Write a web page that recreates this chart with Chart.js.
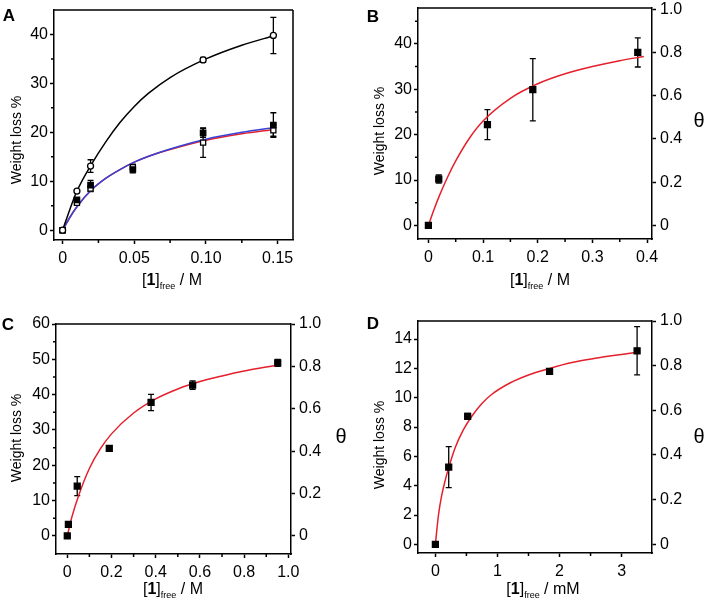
<!DOCTYPE html>
<html>
<head>
<meta charset="utf-8">
<script src="https://cdn.jsdelivr.net/npm/chart.js@4.4.1/dist/chart.umd.min.js"></script>
<style>
html, body { margin: 0; padding: 0; background: #fff; }
#wrap { position: relative; width: 705px; height: 605px; overflow: hidden; }
canvas { position: absolute; }
</style>
</head>
<body>
<div id="wrap">
<canvas id="pA" width="352" height="300" style="left:0;top:0"></canvas>
<canvas id="pB" width="353" height="300" style="left:352px;top:0"></canvas>
<canvas id="pC" width="352" height="305" style="left:0;top:300px"></canvas>
<canvas id="pD" width="353" height="305" style="left:352px;top:300px"></canvas>
</div>
<script>
/*globals Chart*/
const FONT = '"Liberation Sans", Arial, Helvetica, sans-serif';
const RED = 'rgb(228, 32, 44)';
const BLUE = 'rgb(56, 66, 214)';

// panel A - measured points
const aCircX = [0, 0.01, 0.0195, 0.098, 0.147];
const aCircY = [0, 8.0, 13.1, 34.8, 39.8];
const aCircErr = [0, 0.3, 1.3, 0.5, 3.7];
const aSqX = [0, 0.01, 0.0195, 0.049, 0.098, 0.147];
const aFillY = [0, 6.2, 9.2, 12.4, 19.9, 21.5];
const aFillErr = [0, 0.4, 1.0, 0.7, 0.9, 2.5];
const aOpenY = [0, 5.6, 8.5, 12.9, 17.9, 20.4];
const aOpenErr = [0, 0.4, 0.6, 0.6, 3.0, 1.2];
// panel A - fitted curves
const aFitX = [0, 0.005, 0.01, 0.02, 0.03, 0.04, 0.05, 0.06, 0.075, 0.1, 0.125, 0.148];
const aBlackFit = [0, 4.2, 8.0, 13.4, 18.0, 22.0, 25.3, 28.0, 31.2, 35.0, 37.8, 39.8];
const aRedFit = [0, 2.6, 4.8, 8.2, 10.6, 12.4, 13.9, 15.1, 16.5, 18.4, 19.7, 20.6];
const aBlueFit = [0, 2.6, 4.8, 8.2, 10.6, 12.4, 13.9, 15.1, 16.6, 18.6, 20.0, 21.0];

// panel B
const bX = [0, 0.019, 0.108, 0.191, 0.383];
const bY = [0, 10.2, 22.2, 29.9, 38.1];
const bErr = [0.3, 0.9, 3.3, 6.85, 3.2];
const bFitX = [0, 0.01, 0.02, 0.035, 0.05, 0.075, 0.1, 0.15, 0.2, 0.25, 0.3, 0.35, 0.394];
const bFitY = [0, 3.4, 6.5, 10.6, 14.2, 19.2, 23.0, 28.0, 31.2, 33.4, 35.0, 36.3, 37.2];

// panel C
const cX = [0, 0.005, 0.045, 0.19, 0.379, 0.567, 0.952];
const cY = [0, 3.3, 14.1, 24.8, 37.8, 42.7, 49.0];
const cErr = [0.2, 0.3, 2.7, 0.8, 2.3, 1.2, 1.0];
const cFitX = [0, 0.02, 0.05, 0.1, 0.15, 0.2, 0.3, 0.4, 0.5, 0.6, 0.7, 0.8, 0.9, 0.955];
const cFitY = [0, 5.2, 11.2, 19.1, 24.7, 28.9, 34.8, 38.8, 41.6, 43.7, 45.3, 46.7, 47.8, 48.4];

// panel D
const dX = [0, 0.215, 0.52, 1.84, 3.25];
const dY = [0, 5.27, 8.73, 11.8, 13.2];
const dErr = [0.1, 1.4, 0.2, 0.15, 1.65];
const dFitX = [0, 0.05, 0.1, 0.16, 0.22, 0.32, 0.45, 0.59, 0.75, 0.9, 1.2, 1.5, 1.84, 2.2, 2.6, 3.0, 3.25];
const dFitY = [0, 2.0, 3.3, 4.4, 5.3, 6.6, 7.8, 8.75, 9.6, 10.2, 11.0, 11.55, 12.0, 12.4, 12.7, 12.95, 13.1];

// ticks
const aXTicks = [0, 0.05, 0.1, 0.15];
const aXLabels = ['0', '0.05', '0.10', '0.15'];
const aXMinor = [0.025, 0.075, 0.125];
const aYTicks = [0, 10, 20, 30, 40];
const aYMinor = [5, 15, 25, 35];
const bXTicks = [0, 0.1, 0.2, 0.3, 0.4];
const bXLabels = ['0', '0.1', '0.2', '0.3', '0.4'];
const bXMinor = [0.05, 0.15, 0.25, 0.35];
const bYTicks = [0, 10, 20, 30, 40];
const bYMinor = [5, 15, 25, 35, 45];
const cXTicks = [0, 0.2, 0.4, 0.6, 0.8, 1.0];
const cXLabels = ['0', '0.2', '0.4', '0.6', '0.8', '1.0'];
const cXMinor = [0.1, 0.3, 0.5, 0.7, 0.9];
const cYTicks = [0, 10, 20, 30, 40, 50, 60];
const cYMinor = [5, 15, 25, 35, 45, 55];
const dXTicks = [0, 1, 2, 3];
const dXMinor = [0.5, 1.5, 2.5];
const dYTicks = [0, 2, 4, 6, 8, 10, 12, 14];
const thetaTicks = [0, 0.2, 0.4, 0.6, 0.8, 1.0];
const thetaLabels = ['0', '0.2', '0.4', '0.6', '0.8', '1.0'];

const pts = (xs, ys) => xs.map((x, i) => ({ x: x, y: ys[i] }));

function markers(xs, ys, errs, style, fill, r) {
	return {
		data: pts(xs, ys), errors: errs, showLine: false,
		pointStyle: style, pointRadius: r,
		pointBackgroundColor: fill, pointBorderColor: '#000', pointBorderWidth: 1.3
	};
}
function curve(xs, ys, color) {
	return {
		data: pts(xs, ys), showLine: true, pointRadius: 0,
		borderColor: color, borderWidth: 1.5, cubicInterpolationMode: 'monotone', fill: false
	};
}

function drawXTitle(ctx, cx, cy, unit) {
	const parts = [
		{ t: '[', f: '16px ' + FONT, dy: 0 },
		{ t: '1', f: 'bold 16px ' + FONT, dy: 0 },
		{ t: ']', f: '16px ' + FONT, dy: 0 },
		{ t: 'free', f: '9px ' + FONT, dy: 6 },
		{ t: ' / ' + unit, f: '16px ' + FONT, dy: 0 }
	];
	let w = 0;
	parts.forEach(p => { ctx.font = p.f; p.w = ctx.measureText(p.t).width; w += p.w; });
	let x = cx - w / 2;
	ctx.textAlign = 'left';
	ctx.textBaseline = 'middle';
	parts.forEach(p => { ctx.font = p.f; ctx.fillText(p.t, x, cy + p.dy); x += p.w; });
}

const extras = {
	id: 'extras',
	beforeDatasetsDraw(chart) {
		const ctx = chart.ctx, xs = chart.scales.x, ys = chart.scales.y;
		ctx.save();
		ctx.strokeStyle = '#000';
		ctx.lineWidth = 1.3;
		chart.data.datasets.forEach(ds => {
			if (!ds.errors) return;
			ds.data.forEach((p, i) => {
				const e = ds.errors[i];
				if (!e) return;
				const px = xs.getPixelForValue(p.x);
				const top = ys.getPixelForValue(p.y + e);
				const bot = ys.getPixelForValue(p.y - e);
				ctx.beginPath();
				ctx.moveTo(px, top); ctx.lineTo(px, bot);
				ctx.moveTo(px - 3, top); ctx.lineTo(px + 3, top);
				ctx.moveTo(px - 3, bot); ctx.lineTo(px + 3, bot);
				ctx.stroke();
			});
		});
		ctx.restore();
	},
	afterDraw(chart, args, o) {
		const ctx = chart.ctx, a = chart.chartArea;
		ctx.save();
		ctx.strokeStyle = '#000';
		ctx.lineWidth = 1.5;
		ctx.beginPath();
		ctx.moveTo(a.left, a.top); ctx.lineTo(a.right, a.top);
		if (!chart.scales.y2) { ctx.moveTo(a.right, a.top); ctx.lineTo(a.right, a.bottom); }
		// minor ticks
		(o.minorX || []).forEach(v => {
			const px = chart.scales.x.getPixelForValue(v);
			ctx.moveTo(px, a.bottom); ctx.lineTo(px, a.bottom + 3);
		});
		(o.minorY || []).forEach(v => {
			const py = chart.scales.y.getPixelForValue(v);
			ctx.moveTo(a.left - 3, py); ctx.lineTo(a.left, py);
		});
		ctx.stroke();
		ctx.fillStyle = '#000';
		ctx.font = 'bold 17px ' + FONT;
		ctx.textAlign = 'center';
		ctx.textBaseline = 'middle';
		ctx.fillText(o.letter, o.letterPos[0], o.letterPos[1]);
		ctx.save();
		ctx.translate(o.yTitlePos[0], o.yTitlePos[1]);
		ctx.rotate(-Math.PI / 2);
		ctx.font = '14px ' + FONT;
		ctx.fillText('Weight loss %', 0, 0);
		ctx.restore();
		if (o.thetaPos) {
			ctx.font = '20px ' + FONT;
			ctx.fillText('θ', o.thetaPos[0], o.thetaPos[1]);
		}
		drawXTitle(ctx, o.xTitlePos[0], o.xTitlePos[1], o.unit);
		ctx.restore();
	}
};

function axis(pos, min, max, ticks, labels, fit) {
	return {
		type: 'linear', position: pos, min: min, max: max,
		afterBuildTicks: s => { s.ticks = ticks.map(v => ({ value: v })); },
		afterFit: s => {
			fit(s);
			s.paddingTop = 0; s.paddingBottom = 0; s.paddingLeft = 0; s.paddingRight = 0;
		},
		grid: { display: true, drawOnChartArea: false, drawTicks: true, tickLength: 4, tickWidth: 1.5, tickColor: '#000' },
		border: { display: true, color: '#000', width: 1.5 },
		ticks: {
			autoSkip: false, maxRotation: 0, minRotation: 0,
			padding: pos === 'bottom' ? 5 : 2, color: '#000',
			font: { family: FONT, size: 16 },
			callback: (v, i) => labels[i]
		}
	};
}

function makePanel(id, cfg) {
	const c = document.getElementById(id);
	const w = c.width, h = c.height, ar = cfg.area;
	const scales = {
		x: axis('bottom', cfg.x[0], cfg.x[1], cfg.x[2], cfg.x[3], s => { s.height = h - ar.b; }),
		y: axis('left', cfg.y[0], cfg.y[1], cfg.y[2], cfg.y[3], s => { s.width = ar.l; })
	};
	if (cfg.theta) {
		scales.y2 = axis('right', cfg.theta[0], cfg.theta[1], thetaTicks, thetaLabels, s => { s.width = w - ar.r; });
		scales.y2.ticks.padding = 4;
	}
	new Chart(c, {
		type: 'scatter',
		data: { datasets: cfg.datasets },
		options: {
			responsive: false, animation: false, events: [],
			layout: { padding: { left: 0, top: ar.t, bottom: 0, right: cfg.theta ? 0 : w - ar.r } },
			scales: scales,
			plugins: {
				legend: { display: false }, tooltip: { enabled: false },
				extras: cfg.extras
			}
		},
		plugins: [extras]
	});
}

makePanel('pA', {
	area: { l: 54, r: 293, t: 10, b: 240 },
	x: [-0.006, 0.1607, aXTicks, aXLabels],
	y: [-2, 45, aYTicks, aYTicks.map(String)],
	datasets: [
		markers(aCircX, aCircY, aCircErr, 'circle', '#fff', 3),
		markers(aSqX, aFillY, aFillErr, 'rect', '#000', 3.8),
		markers(aSqX, aOpenY, aOpenErr, 'rect', '#fff', 3.6),
		curve(aFitX, aBlackFit, '#000'),
		curve(aFitX, aBlueFit, BLUE),
		curve(aFitX, aRedFit, RED)
	],
	extras: { letter: 'A', letterPos: [9, 16], yTitlePos: [17, 140], xTitlePos: [172, 281], unit: 'M', minorX: aXMinor, minorY: aYMinor }
});

makePanel('pB', {
	area: { l: 66, r: 300, t: 8, b: 239 },
	x: [-0.019, 0.409, bXTicks, bXLabels],
	y: [-3, 47.9, bYTicks, bYTicks.map(String)],
	theta: [-0.063, 1.006],
	datasets: [
		markers(bX, bY, bErr, 'rect', '#000', 4.2),
		curve(bFitX, bFitY, RED)
	],
	extras: { letter: 'B', letterPos: [21, 17], yTitlePos: [28, 131], thetaPos: [347, 121], xTitlePos: [188, 281], unit: 'M', minorX: bXMinor, minorY: bYMinor }
});

makePanel('pC', {
	area: { l: 56, r: 291, t: 24, b: 254 },
	x: [-0.051, 1.012, cXTicks, cXLabels],
	y: [-5.1, 60, cYTicks, cYTicks.map(String)],
	theta: [-0.085, 1.0],
	datasets: [
		markers(cX, cY, cErr, 'rect', '#000', 4.2),
		curve(cFitX, cFitY, RED)
	],
	extras: { letter: 'C', letterPos: [8, 25], yTitlePos: [17, 138], thetaPos: [341, 137], xTitlePos: [173, 290], unit: 'M', minorX: cXMinor, minorY: cYMinor }
});

makePanel('pD', {
	area: { l: 66, r: 300, t: 21, b: 253 },
	x: [-0.28, 3.49, dXTicks, dXTicks.map(String)],
	y: [-0.59, 15.23, dYTicks, dYTicks.map(String)],
	theta: [-0.039, 1.0],
	datasets: [
		markers(dX, dY, dErr, 'rect', '#000', 4.2),
		curve(dFitX, dFitY, RED)
	],
	extras: { letter: 'D', letterPos: [21, 24], yTitlePos: [28, 145], thetaPos: [347, 137], xTitlePos: [191, 290], unit: 'mM', minorX: dXMinor, minorY: [] }
});
</script>
</body>
</html>
